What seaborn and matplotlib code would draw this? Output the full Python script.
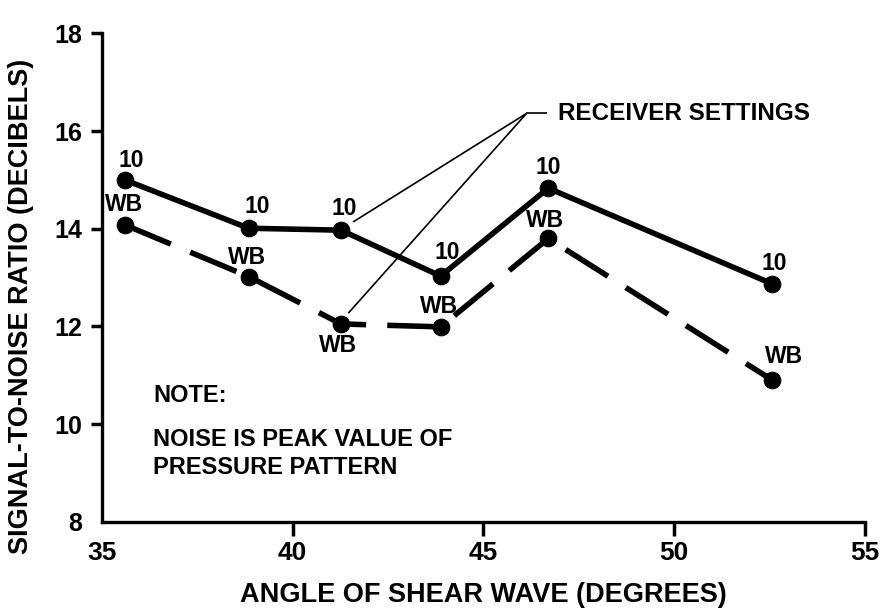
import matplotlib
matplotlib.use("Agg")
import matplotlib.pyplot as plt
import seaborn as sns
import pandas as pd

# ---- data ----
angles = [35.6, 38.85, 41.27, 43.88, 46.7, 52.57]
snr_10 = [15.0, 14.01, 13.97, 13.03, 14.83, 12.87]
snr_wb = [14.08, 13.02, 12.05, 11.99, 13.8, 10.9]
setting_names = ["10", "WB"]
x_ticks = [35, 40, 45, 50, 55]
y_ticks = [8, 10, 12, 14, 16, 18]
x_label = "ANGLE OF SHEAR WAVE (DEGREES)"
y_label = "SIGNAL-TO-NOISE RATIO (DECIBELS)"
callout_text = "RECEIVER SETTINGS"
note_title = "NOTE:"
note_lines = ["NOISE IS PEAK VALUE OF", "PRESSURE PATTERN"]

# label offsets (pixels) for point annotations
off_10 = [(6.7, 19), (9, 21.6), (3.3, 21.7), (6.7, 23.7), (0, 21), (1.6, 20)]
off_wb = [(-1, 20), (-1.7, 19.4), (-3.3, -22), (-1.7, 20), (-3.3, 17.6), (11.7, 23.3)]

df = pd.DataFrame({
    "angle": angles + angles,
    "snr": snr_10 + snr_wb,
    "setting": [setting_names[0]] * len(angles) + [setting_names[1]] * len(angles),
})

sns.set_style("ticks")
plt.rcParams["font.family"] = ["Liberation Sans", "DejaVu Sans"]
plt.rcParams["font.weight"] = "bold"
plt.rcParams["text.color"] = "black"
plt.rcParams["axes.labelcolor"] = "black"
plt.rcParams["axes.labelweight"] = "bold"
plt.rcParams["xtick.color"] = "black"
plt.rcParams["ytick.color"] = "black"
plt.rcParams["axes.edgecolor"] = "black"
plt.rcParams["lines.solid_capstyle"] = "butt"
plt.rcParams["lines.dash_capstyle"] = "butt"

fig = plt.figure(figsize=(8.87, 6.11), dpi=100)
ax = fig.add_axes([0.1147, 0.1461, 0.8605, 0.7993])

sns.lineplot(data=df, x="angle", y="snr", hue="setting", style="setting",
             palette={"10": "black", "WB": "black"},
             dashes={"10": "", "WB": (9, 3.8)},
             markers={"10": "o", "WB": "o"},
             markersize=12, linewidth=4, markeredgecolor="black",
             sort=False, legend=False, ax=ax)

ax.set_xlim(35, 55)
ax.set_ylim(8, 18)
ax.set_xticks(x_ticks)
ax.set_xticklabels([str(v) for v in x_ticks])
ax.set_yticks(y_ticks)
ax.set_yticklabels([str(v) for v in y_ticks])
ax.tick_params(axis="x", direction="out", length=10, width=2.5, labelsize=19, pad=4)
ax.tick_params(axis="y", direction="out", length=8, width=2.5, labelsize=18, pad=6)
ax.xaxis.get_major_ticks()[0].tick1line.set_visible(False)
ax.yaxis.get_major_ticks()[0].tick1line.set_visible(False)
for s in ["left", "bottom"]:
    ax.spines[s].set_linewidth(2.4)
for s in ["top", "right"]:
    ax.spines[s].set_visible(False)

ax.set_xlabel(x_label, fontsize=19.5, labelpad=12)
ax.set_ylabel(y_label, fontsize=19.5)
ax.yaxis.set_label_coords(-0.089, 0.44)

for x, y, (dx, dy) in zip(angles, snr_10, off_10):
    ax.annotate(setting_names[0], (x, y), xytext=(dx, dy), textcoords="offset pixels",
                ha="center", va="center", fontsize=16.5)
for x, y, (dx, dy) in zip(angles, snr_wb, off_wb):
    ax.annotate(setting_names[1], (x, y), xytext=(dx, dy), textcoords="offset pixels",
                ha="center", va="center", fontsize=16.5)

# callout
ax.plot([46.13, 46.66], [16.36, 16.36], color="black", lw=1.2)
ax.plot([46.13, 41.59], [16.36, 14.14], color="black", lw=1.2)
ax.plot([46.13, 41.46], [16.36, 12.27], color="black", lw=1.2)
ax.text(46.95, 16.36, callout_text, ha="left", va="center", fontsize=17.5)

# note
ax.text(36.34, 10.59, note_title, ha="left", va="center", fontsize=17)
ax.text(36.34, 9.69, note_lines[0], ha="left", va="center", fontsize=17)
ax.text(36.34, 9.12, note_lines[1], ha="left", va="center", fontsize=17)

fig.savefig("out.png", dpi=100)
